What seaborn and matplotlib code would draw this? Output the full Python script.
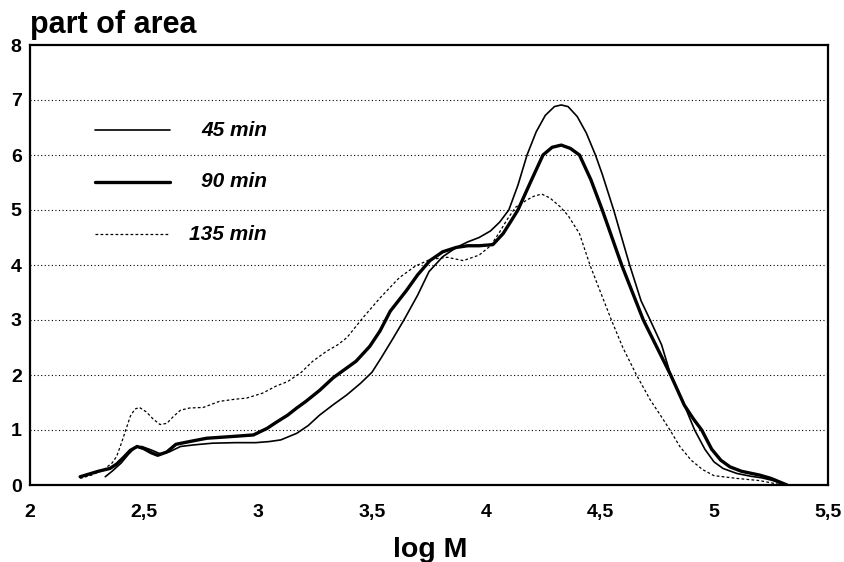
import matplotlib
matplotlib.use("Agg")
import matplotlib.pyplot as plt
import seaborn as sns
import numpy as np
import pandas as pd

# ---- data ----
x45 = [2.33, 2.36, 2.40, 2.43, 2.46, 2.49, 2.53, 2.57, 2.61, 2.66, 2.72, 2.80, 2.90, 2.99,
       3.05, 3.10, 3.17, 3.22, 3.27, 3.33, 3.39, 3.45, 3.50, 3.54, 3.59, 3.64, 3.70, 3.75,
       3.81, 3.87, 3.92, 3.97, 4.02, 4.06, 4.10, 4.14, 4.18, 4.22, 4.26, 4.30, 4.33, 4.36,
       4.40, 4.44, 4.48, 4.51, 4.56, 4.63, 4.68, 4.72, 4.77, 4.81, 4.86, 4.915, 4.96, 5.00,
       5.04, 5.10, 5.16, 5.21, 5.26, 5.31]
y45 = [0.15, 0.25, 0.40, 0.55, 0.68, 0.70, 0.64, 0.57, 0.60, 0.70, 0.73, 0.76, 0.77, 0.77,
       0.79, 0.82, 0.94, 1.08, 1.27, 1.46, 1.64, 1.85, 2.05, 2.31, 2.65, 3.00, 3.45, 3.88,
       4.15, 4.32, 4.42, 4.50, 4.62, 4.78, 5.00, 5.45, 6.00, 6.42, 6.72, 6.88, 6.91, 6.88,
       6.70, 6.40, 6.00, 5.65, 5.00, 4.00, 3.35, 3.00, 2.55, 2.00, 1.55, 1.00, 0.65, 0.42,
       0.30, 0.21, 0.16, 0.13, 0.08, 0.00]

x90 = [2.22, 2.26, 2.30, 2.35, 2.38, 2.41, 2.44, 2.47, 2.50, 2.53, 2.56, 2.60, 2.64, 2.70,
       2.775, 2.88, 2.98, 3.04, 3.08, 3.13, 3.17, 3.21, 3.27, 3.33, 3.38, 3.43, 3.49, 3.535,
       3.58, 3.65, 3.70, 3.754, 3.81, 3.87, 3.92, 3.97, 4.03, 4.075, 4.11, 4.14, 4.20, 4.25,
       4.29, 4.33, 4.37, 4.41, 4.46, 4.51, 4.595, 4.69, 4.75, 4.81, 4.87, 4.91, 4.946, 4.99,
       5.03, 5.07, 5.12, 5.20, 5.25, 5.32]
y90 = [0.15, 0.20, 0.25, 0.30, 0.38, 0.50, 0.63, 0.70, 0.66, 0.59, 0.54, 0.60, 0.74, 0.79,
       0.85, 0.88, 0.91, 1.03, 1.14, 1.27, 1.40, 1.52, 1.72, 1.95, 2.10, 2.25, 2.52, 2.80,
       3.16, 3.53, 3.82, 4.08, 4.24, 4.32, 4.35, 4.35, 4.37, 4.57, 4.80, 5.00, 5.55, 6.00,
       6.14, 6.18, 6.12, 6.00, 5.55, 5.00, 4.00, 3.00, 2.50, 2.00, 1.45, 1.20, 1.00, 0.65,
       0.45, 0.33, 0.25, 0.18, 0.12, 0.00]

x135 = [2.22, 2.27, 2.32, 2.36, 2.38, 2.40, 2.42, 2.44, 2.46, 2.48, 2.51, 2.54, 2.57, 2.60,
        2.63, 2.66, 2.70, 2.76, 2.83, 2.90, 2.95, 3.02, 3.08, 3.13, 3.19, 3.24, 3.30, 3.35,
        3.39, 3.46, 3.535, 3.62, 3.69, 3.754, 3.83, 3.90, 3.97, 4.02, 4.06, 4.09, 4.13, 4.178,
        4.21, 4.244, 4.28, 4.325, 4.36, 4.41, 4.456, 4.50, 4.55, 4.60, 4.66, 4.72, 4.76, 4.807,
        4.85, 4.90, 4.95, 5.00, 5.10, 5.20, 5.30]
y135 = [0.12, 0.18, 0.27, 0.40, 0.52, 0.75, 1.00, 1.25, 1.38, 1.41, 1.33, 1.20, 1.10, 1.12,
        1.25, 1.36, 1.40, 1.41, 1.52, 1.56, 1.58, 1.67, 1.80, 1.88, 2.05, 2.25, 2.43, 2.55,
        2.68, 3.04, 3.40, 3.77, 3.98, 4.10, 4.14, 4.08, 4.18, 4.35, 4.60, 4.81, 5.05, 5.18,
        5.25, 5.29, 5.22, 5.06, 4.90, 4.57, 4.00, 3.53, 3.00, 2.50, 2.00, 1.55, 1.30, 1.00,
        0.70, 0.45, 0.28, 0.17, 0.12, 0.08, 0.00]

series_labels = ["45 min", "90 min", "135 min"]
x_ticks = [2, 2.5, 3, 3.5, 4, 4.5, 5, 5.5]
x_tick_labels = ["2", "2,5", "3", "3,5", "4", "4,5", "5", "5,5"]
y_ticks = [0, 1, 2, 3, 4, 5, 6, 7, 8]
y_tick_labels = ["0", "1", "2", "3", "4", "5", "6", "7", "8"]

# ---- styling ----
sns.set_theme(style="white")
plt.rcParams["font.family"] = ["Liberation Sans", "DejaVu Sans"]
plt.rcParams["text.color"] = "black"
plt.rcParams["xtick.color"] = "black"
plt.rcParams["ytick.color"] = "black"

W, H = 845, 562
fig = plt.figure(figsize=(W / 100, H / 100), dpi=100)
L, R, T, B = 30, 828, 45, 485
ax = fig.add_axes([L / W, 1 - B / H, (R - L) / W, (B - T) / H])

styles = [
    dict(lw=1.2, ls="-"),
    dict(lw=2.4, ls="-"),
    dict(lw=0.9, ls=(0, (2.2, 1.8))),
]
for xs, ys, st in zip([x45, x90, x135], [y45, y90, y135], styles):
    sns.lineplot(x=xs, y=ys, ax=ax, color="black", sort=False, estimator=None,
                 linewidth=st["lw"], linestyle=st["ls"], legend=False)

ax.set_xlim(2, 5.5)
ax.set_ylim(0, 8)
for g in y_ticks[1:-1]:
    ax.axhline(g, color="black", lw=0.8, ls=(0, (1, 2.2)), zorder=0)

ax.set_xticks(x_ticks)
ax.set_xticklabels(x_tick_labels, fontsize=14, fontweight="bold", color="black")
ax.set_yticks(y_ticks)
ax.set_yticklabels(y_tick_labels, fontsize=14, fontweight="bold", color="black")
ax.tick_params(axis="x", direction="in", length=8, width=1.3, pad=14, colors="black")
ax.tick_params(axis="y", direction="in", length=6, width=1.3, pad=6, colors="black")
for s in ax.spines.values():
    s.set_color("black")
    s.set_linewidth(1.6)
    s.set_visible(True)
ax.set_xlabel("")
ax.set_ylabel("")

# legend drawn as in the reference (lines left, labels right-aligned)
leg_y = [6.45, 5.51, 4.56]
for lab, st, yy in zip(series_labels, styles, leg_y):
    ax.plot([2.285, 2.614], [yy, yy], color="black", lw=st["lw"], ls=st["ls"])
    ax.text(3.04, yy, lab, ha="right", va="center", fontsize=15,
            fontweight="bold", fontstyle="italic", color="black")

fig.text(L / W, 1 - 33 / H, "part of area", ha="left", va="baseline",
         fontsize=22, fontweight="bold", color="black")
fig.text(430 / W, 1 - 557 / H, "log M", ha="center", va="baseline",
         fontsize=20.5, fontweight="bold", color="black")

fig.savefig("out.png", dpi=100)
